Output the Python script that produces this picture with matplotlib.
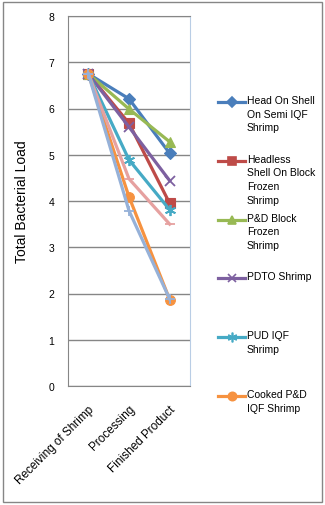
import matplotlib
matplotlib.use('Agg')
import matplotlib.pyplot as plt
from matplotlib.lines import Line2D
from matplotlib.patches import Rectangle

plt.rcParams['font.family'] = ['Liberation Sans', 'DejaVu Sans']

categories = ['Receiving of Shrimp', 'Processing', 'Finished Product']

head_on = [6.75, 6.21, 5.03]
headless = [6.75, 5.68, 3.95]
pd_block = [6.75, 5.99, 5.28]
pdto = [6.75, 5.60, 4.44]
pud_iqf = [6.75, 4.89, 3.81]
cooked = [6.75, 4.09, 1.87]
pink_series = [6.75, 4.48, 3.50]
lightblue_series = [6.75, 3.79, 1.88]

legend_names = ['Head On Shell\nOn Semi IQF\nShrimp',
                'Headless\nShell On Block\nFrozen\nShrimp',
                'P&D Block\nFrozen\nShrimp',
                'PDTO Shrimp',
                'PUD IQF\nShrimp',
                'Cooked P&D\nIQF Shrimp']

series = [head_on, headless, pd_block, pdto, pud_iqf, cooked, pink_series, lightblue_series]
colors = ['#4A7EBB', '#BE4B48', '#98B954', '#7D60A0', '#46AAC5', '#F69240', '#E6A1A0', '#96B1D8']
markers = ['D', 's', '^', 'x', (6, 2, 0), 'o', '_', '+']
msizes = [6, 7, 7, 7, 8, 7, 7, 7]

W, H = 325, 506
fig = plt.figure(figsize=(W / 100, H / 100), dpi=100)
ax = fig.add_axes([68 / W, 1 - 387 / H, 122 / W, 370 / H])

x = list(range(len(categories)))
for vals, c, m, ms in zip(series, colors, markers, msizes):
    thin = m in ('x', '+', '_') or isinstance(m, tuple)
    ax.plot(x, vals, color=c, marker=m, markersize=ms, linewidth=2.3,
            markeredgewidth=1.3 if thin else 0.8,
            markeredgecolor=c, markerfacecolor=c)

ax.set_xlim(-0.5, 2.5)
ax.set_ylim(0, 8)
ax.set_yticks(range(0, 9))
ax.yaxis.grid(True, color='#868686', linewidth=1)
ax.set_axisbelow(True)
ax.tick_params(axis='y', length=0, pad=10, labelsize=7.5)
ax.set_xticks(x)
ax.set_xticklabels(categories, rotation=45, ha='right', rotation_mode='anchor', fontsize=8.5)
ax.tick_params(axis='x', length=0, pad=12)
for s in ['left', 'bottom']:
    ax.spines[s].set_color('#868686')
ax.spines['right'].set_color('#B9CDE5')
ax.spines['top'].set_color('#868686')
ax.set_ylabel('Total Bacterial Load', fontsize=10, labelpad=14)

# legend drawn by hand (only the first six series are listed)
for i, name in enumerate(legend_names):
    yy = 1 - (103 + i * 58.8) / H
    fig.add_artist(Line2D([218 / W, 245 / W], [yy, yy], color=colors[i], linewidth=2.3,
                          transform=fig.transFigure))
    fig.add_artist(Line2D([231.5 / W], [yy], color=colors[i], marker=markers[i],
                          markersize=msizes[i] - 1, markeredgewidth=1.2,
                          transform=fig.transFigure))
    fig.text(247 / W, yy + 7 / H, name, fontsize=7.5, va='top', ha='left', linespacing=1.45)

fig.add_artist(Rectangle((3 / W, 3 / H), 319 / W, 500 / H, fill=False, edgecolor='#868686',
                         linewidth=1, transform=fig.transFigure))

fig.savefig('out.png', dpi=100)
